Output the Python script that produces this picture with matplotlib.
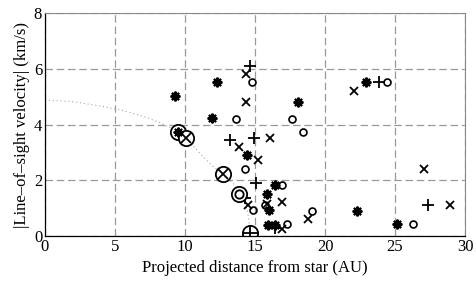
import matplotlib
matplotlib.use("Agg")
import matplotlib.pyplot as plt

plt.rcParams["font.family"] = ["Liberation Serif", "DejaVu Serif"]

# data
star_x = [9.29, 12.29, 11.93, 18.10, 14.40, 16.43, 15.83, 16.00, 15.90, 16.43, 22.90, 22.31, 25.17]
star_y = [5.02, 5.51, 4.22, 4.82, 2.90, 1.83, 1.50, 0.93, 0.39, 0.40, 5.51, 0.90, 0.42]

plus_x = [14.64, 13.21, 14.95, 15.08, 14.29, 16.43, 23.86, 27.33]
plus_y = [6.10, 3.44, 3.50, 1.90, 1.37, 0.28, 5.51, 1.10]

cross_x = [14.38, 14.38, 13.86, 16.07, 15.24, 14.52, 15.85, 16.90, 16.90, 18.76, 22.07, 27.07, 28.93]
cross_y = [5.83, 4.81, 3.20, 3.50, 2.72, 1.10, 1.15, 1.21, 0.25, 0.60, 5.21, 2.40, 1.10]

circ_x = [14.79, 13.64, 17.67, 18.40, 14.29, 16.90, 14.88, 15.71, 17.30, 19.10, 24.45, 26.31]
circ_y = [5.52, 4.20, 4.19, 3.72, 2.42, 1.83, 0.92, 1.11, 0.42, 0.90, 5.51, 0.42]

# circled markers (objects on the orbit)
ring_star = ([9.48], [3.74])
ring_cross = ([10.05, 12.74], [3.50, 2.21])
ring_circ = ([13.88], [1.50])
ring_plus = ([14.62], [0.12])

# dotted orbit curve
orbit_x = [0.0, 2.0, 4.0, 5.4, 7.0, 8.2, 9.5, 10.0, 11.3, 12.0, 12.74, 13.45, 14.0, 14.29, 14.5, 14.6, 14.62]
orbit_y = [4.88, 4.82, 4.66, 4.52, 4.30, 4.07, 3.74, 3.55, 2.84, 2.50, 2.21, 1.89, 1.50, 1.18, 0.80, 0.40, 0.12]

fig = plt.figure(figsize=(4.77, 2.81), dpi=100)
ax = fig.add_axes([0.0943, 0.16, 0.8807, 0.7937])

ax.plot(orbit_x, orbit_y, linestyle=(0, (1, 2.5)), color="#a8a8a8", linewidth=0.8)

ms = 7
asterisk = (8, 2, 0)
ax.plot(star_x, star_y, linestyle="none", marker=asterisk, color="black", markersize=ms, markeredgewidth=1.5)
ax.plot(plus_x, plus_y, linestyle="none", marker="+", color="black", markersize=ms + 1, markeredgewidth=1.3)
ax.plot(cross_x, cross_y, linestyle="none", marker="x", color="black", markersize=ms - 1, markeredgewidth=1.3)
ax.plot(circ_x, circ_y, linestyle="none", marker="o", markerfacecolor="none", color="black",
        markersize=5, markeredgewidth=1.2)

big = 11
for xs, ys in (ring_star, ring_cross, ring_circ, ring_plus):
    ax.plot(xs, ys, linestyle="none", marker="o", markerfacecolor="white", color="black",
            markersize=big, markeredgewidth=1.3)
ax.plot(*ring_star, linestyle="none", marker=asterisk, color="black", markersize=7, markeredgewidth=1.4)
ax.plot(*ring_cross, linestyle="none", marker="x", color="black", markersize=7, markeredgewidth=1.3)
ax.plot(*ring_circ, linestyle="none", marker="o", markerfacecolor="none", color="black",
        markersize=6, markeredgewidth=1.3)
ax.plot(*ring_plus, linestyle="none", marker="+", color="black", markersize=11, markeredgewidth=1.3)

ax.set_xlim(0, 30)
ax.set_ylim(0, 8)
ax.set_xticks([0, 5, 10, 15, 20, 25, 30])
ax.set_yticks([0, 2, 4, 6, 8])
ax.grid(True, linestyle=(0, (6, 3)), color="#999999", linewidth=0.9)
ax.tick_params(direction="in", length=0, labelsize=12, pad=2)

for side in ("top", "right"):
    ax.spines[side].set_color("#888888")
    ax.spines[side].set_linewidth(0.8)
for side in ("left", "bottom"):
    ax.spines[side].set_color("black")
    ax.spines[side].set_linewidth(0.9)

ax.set_xlabel("Projected distance from star (AU)", fontsize=12, labelpad=4)
ax.set_ylabel("|Line\u2013of\u2013sight velocity| (km/s)", fontsize=12, labelpad=3)

fig.savefig("out.png", dpi=100)
